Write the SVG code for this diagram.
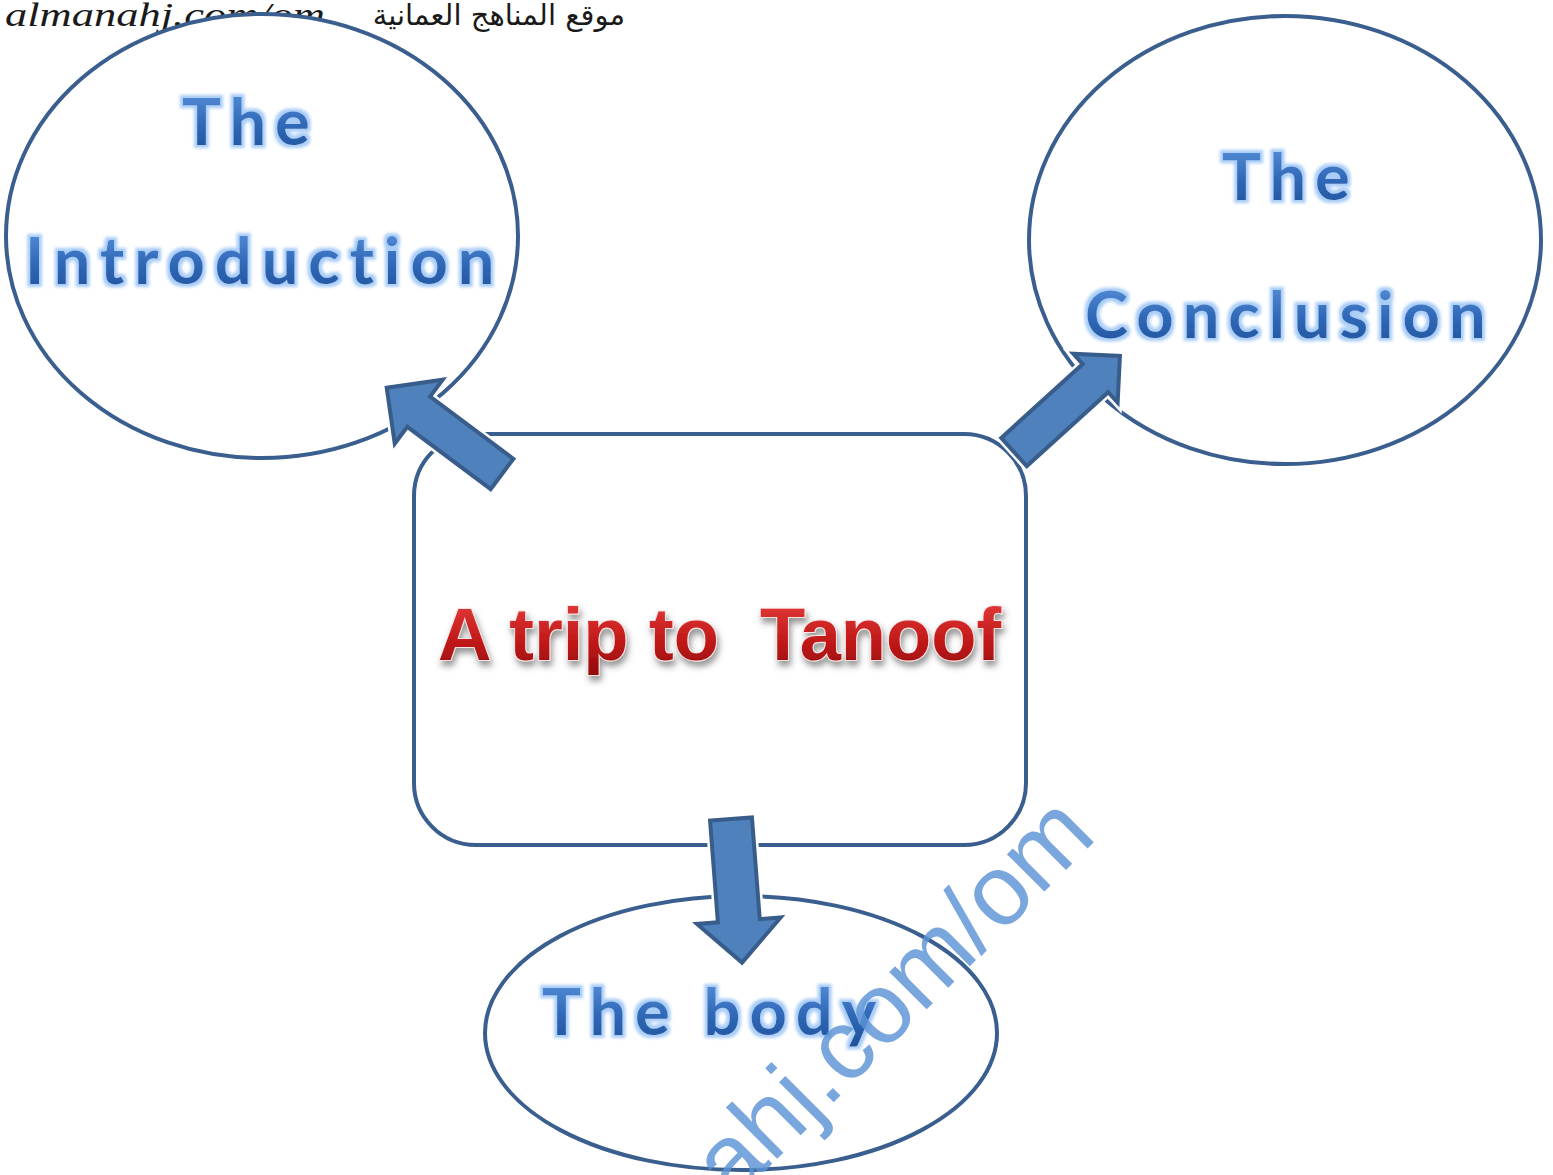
<svg xmlns="http://www.w3.org/2000/svg" width="1553" height="1175" viewBox="0 0 1553 1175">
<defs>
<linearGradient id="gBlue" x1="0" y1="0" x2="0" y2="1">
<stop offset="0" stop-color="#6198e0"/>
<stop offset="0.55" stop-color="#3069b8"/>
<stop offset="1" stop-color="#1e4f98"/>
</linearGradient>
<linearGradient id="gRed" x1="0" y1="0" x2="0" y2="1">
<stop offset="0" stop-color="#e8413f"/>
<stop offset="0.6" stop-color="#c01818"/>
<stop offset="1" stop-color="#8e0a0a"/>
</linearGradient>
<filter id="shadow" x="-10%" y="-30%" width="120%" height="170%">
<feDropShadow dx="2" dy="5" stdDeviation="3" flood-color="#404040" flood-opacity="0.55"/>
</filter>
<filter id="glow" x="-10%" y="-30%" width="120%" height="160%">
<feMorphology in="SourceAlpha" operator="dilate" radius="3" result="d"/>
<feGaussianBlur in="d" stdDeviation="1.5" result="db"/>
<feFlood flood-color="#a9cdf7"/>
<feComposite in2="db" operator="in" result="halo"/>
<feMerge><feMergeNode in="halo"/><feMergeNode in="SourceGraphic"/></feMerge>
</filter>
</defs>
<style>
.shape{fill:#ffffff;stroke:#3a5f8f;stroke-width:4}
.arrow{fill:#4f81bd;stroke:#385d8a;stroke-width:4;stroke-linejoin:miter}
.halo{fill:none;stroke:#ffffff;stroke-width:9;stroke-linejoin:miter}
.blue{font-family:Lato,"Open Sans",sans-serif;font-weight:bold;font-size:65px;letter-spacing:9px;fill:url(#gBlue);filter:url(#glow)}
.red{font-family:"Liberation Sans",Arial,sans-serif;font-weight:bold;font-size:74px;fill:url(#gRed);stroke:#fbe3e3;stroke-width:2;paint-order:stroke;filter:url(#shadow);white-space:pre}
.wm{font-family:"Liberation Sans",Arial,sans-serif;font-size:100px;fill:#5b93d6;fill-opacity:0.82}
</style>
<rect width="1553" height="1175" fill="#ffffff"/>
<g id="header">
<text x="5" y="26" font-family="'Liberation Serif',serif" font-style="italic" font-size="33" fill="#1a1a1a" textLength="320" lengthAdjust="spacingAndGlyphs">almanahj.com/om</text>
<text x="625" y="25" text-anchor="end" font-family="'DejaVu Sans','Noto Sans',sans-serif" font-size="29" fill="#1a1a1a">موقع المناهج العمانية</text>
</g>
<g id="node-intro">
<ellipse class="shape" cx="262" cy="236" rx="256" ry="222"/>
<text class="blue" x="182" y="145">The</text>
<text class="blue" x="25" y="284" style="letter-spacing:10px">Introduction</text>
</g>
<g id="node-conclusion">
<ellipse class="shape" cx="1285" cy="240" rx="256" ry="224"/>
<text class="blue" x="1222" y="200">The</text>
<text class="blue" x="1085" y="338">Conclusion</text>
</g>
<g id="node-topic">
<rect class="shape" x="414" y="434" width="612" height="411" rx="62" ry="62"/>
<text class="red" x="438" y="660">A trip to  Tanoof</text>
</g>
<g id="node-body">
<ellipse class="shape" cx="741" cy="1033" rx="256" ry="137"/>
<text class="blue" x="542" y="1035" xml:space="preserve">The body</text>
</g>
<g id="connectors">
<g transform="translate(502,474) rotate(-143.2)">
<path class="halo" d="M0,-19 L104,-19 L104,-40 L144,0 L104,40 L104,19 L0,19 Z"/>
<path class="arrow" d="M0,-19 L104,-19 L104,-40 L144,0 L104,40 L104,19 L0,19 Z"/>
</g>
<g transform="translate(1014,452) rotate(-42.2)">
<path class="halo" d="M0,-19 L110,-19 L110,-33 L143,0 L110,33 L110,19 L0,19 Z"/>
<path class="arrow" d="M0,-19 L110,-19 L110,-33 L143,0 L110,33 L110,19 L0,19 Z"/>
</g>
<g transform="translate(731,819) rotate(85.6)">
<path class="halo" d="M0,-21 L102,-21 L102,-42 L144,0 L102,42 L102,21 L0,21 Z"/>
<path class="arrow" d="M0,-21 L102,-21 L102,-42 L144,0 L102,42 L102,21 L0,21 Z"/>
</g>
</g>
<g id="watermark">
<text class="wm" transform="translate(733,1203) rotate(-45)">ahj.com/om</text>
</g>
</svg>
